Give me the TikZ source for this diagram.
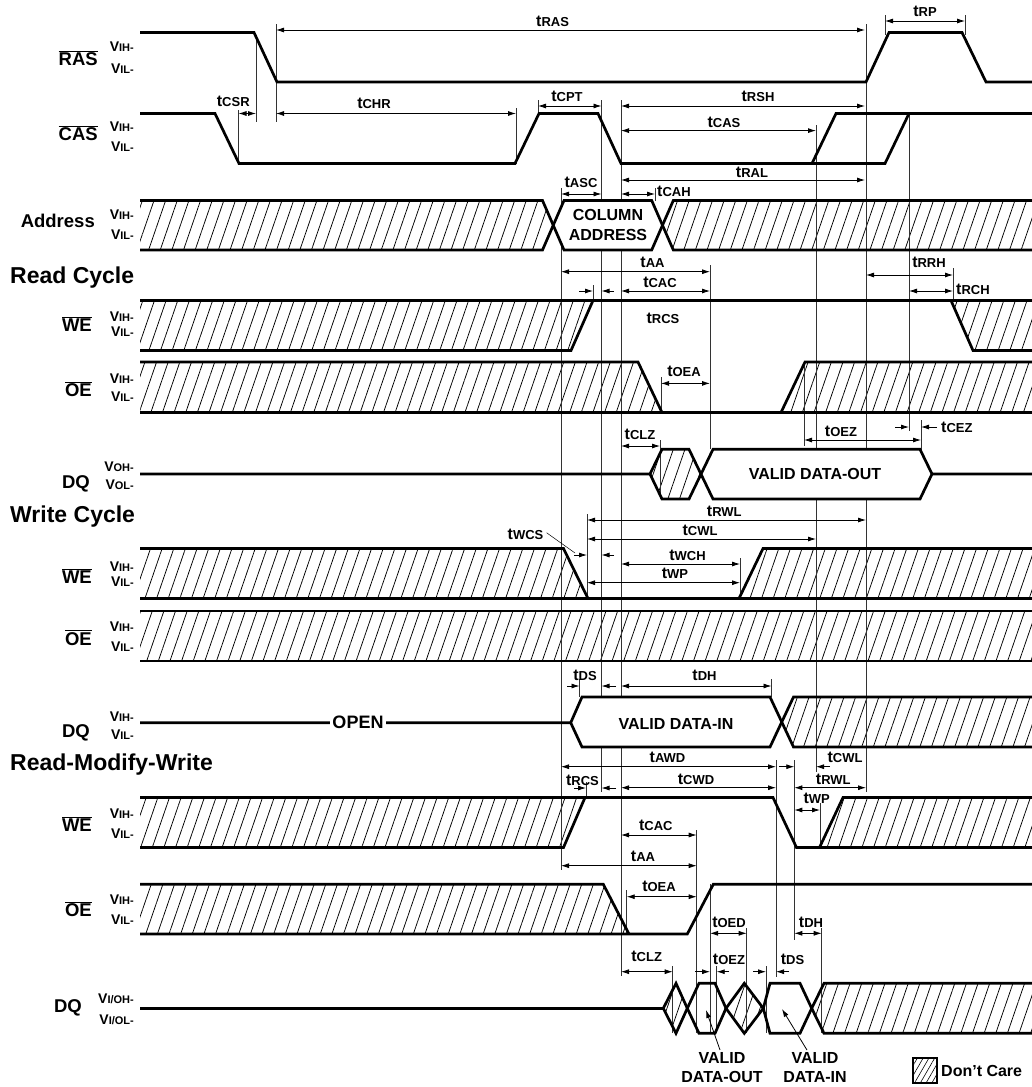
\documentclass[tikz,border=0pt]{standalone}
\usepackage{fontspec}
\setmainfont{Liberation Sans}
\usetikzlibrary{arrows.meta,patterns.meta}

\newcommand{\tn}[1]{{\fontsize{16}{16}\selectfont t}{\fontsize{13}{13}\selectfont #1}}
\newcommand{\vl}[1]{{\fontsize{14}{14}\selectfont V}{\fontsize{11}{11}\selectfont #1-}}
\newcommand{\ovl}[1]{$\overline{\mbox{#1}}$}

\tikzset{
  sig/.style={line width=2.7pt},
  guide/.style={line width=0.7pt, black!80},
  dim/.style={line width=0.8pt, {Latex[length=8pt,width=5pt]}-{Latex[length=8pt,width=5pt]}},
  half/.style={line width=0.8pt, -{Latex[length=8pt,width=5pt]}},
  hatch/.style={pattern={Lines[angle=71,distance=11pt,line width=0.75pt]}},
  tl/.style={font=\bfseries, inner sep=0pt},
  sn/.style={font=\bfseries\fontsize{18.5}{18.5}\selectfont, anchor=base east, inner sep=0pt},
  lvl/.style={font=\bfseries, anchor=east, inner sep=0pt},
  ttl/.style={font=\bfseries\fontsize{23}{23}\selectfont, anchor=base west, inner sep=0pt},
  txt/.style={font=\bfseries\fontsize{16}{19.5}\selectfont, inner sep=0pt, align=center},
}

\begin{document}
\begin{tikzpicture}[x=1pt,y=-1pt]
\useasboundingbox (0,0) rectangle (1032,1087);

% signal names and levels
\node[sn] (ras) at (98,65.7) {\ovl{RAS}};
\node[lvl] (rasH) at (134,46.7) {\vl{IH}};
\node[lvl] (rasL) at (134,68.3) {\vl{IL}};
\node[sn] (cas) at (98,140.7) {\ovl{CAS}};
\node[lvl] (casH) at (134,126.7) {\vl{IH}};
\node[lvl] (casL) at (134,146.7) {\vl{IL}};
\node[sn] (addr) at (95,227.5) {Address};
\node[lvl] (addrH) at (134,215) {\vl{IH}};
\node[lvl] (addrL) at (134,235) {\vl{IL}};

\node[ttl] (read) at (10,283.5) {Read Cycle};
\node[sn] (rwe) at (92,331.7) {\ovl{WE}};
\node[lvl] (rweH) at (134,316.7) {\vl{IH}};
\node[lvl] (rweL) at (134,331.7) {\vl{IL}};
\node[sn] (roe) at (92,396.7) {\ovl{OE}};
\node[lvl] (roeH) at (134,378.3) {\vl{IH}};
\node[lvl] (roeL) at (134,396.7) {\vl{IL}};
\node[sn] (rdq) at (90,488) {DQ};
\node[lvl] (rdqH) at (134,466.7) {\vl{OH}};
\node[lvl] (rdqL) at (134,485) {\vl{OL}};

\node[ttl] (write) at (10,522.7) {Write Cycle};
\node[sn] (wwe) at (92,583.3) {\ovl{WE}};
\node[lvl] (wweH) at (134,566.7) {\vl{IH}};
\node[lvl] (wweL) at (134,581.7) {\vl{IL}};
\node[sn] (woe) at (92,645) {\ovl{OE}};
\node[lvl] (woeH) at (134,626.7) {\vl{IH}};
\node[lvl] (woeL) at (134,646.7) {\vl{IL}};
\node[sn] (wdq) at (90,737) {DQ};
\node[lvl] (wdqH) at (134,716.7) {\vl{IH}};
\node[lvl] (wdqL) at (134,735) {\vl{IL}};

\node[ttl] (rmw) at (10,770.7) {Read-Modify-Write};
\node[sn] (mwe) at (92,831.7) {\ovl{WE}};
\node[lvl] (mweH) at (134,813.3) {\vl{IH}};
\node[lvl] (mweL) at (134,833.3) {\vl{IL}};
\node[sn] (moe) at (92,916.7) {\ovl{OE}};
\node[lvl] (moeH) at (134,900) {\vl{IH}};
\node[lvl] (moeL) at (134,920) {\vl{IL}};
\node[sn] (mdq) at (82,1012) {DQ};
\node[lvl] (mdqH) at (134,998.3) {\vl{I/OH}};
\node[lvl] (mdqL) at (134,1019.3) {\vl{I/OL}};

% don't care areas
\fill[hatch] (140,200.5) -- (542.5,200.5) -- (553.3,225.25) -- (542.5,250) -- (140,250) -- cycle;
\fill[hatch] (662.5,225.25) -- (673.3,200.5) -- (1032,200.5) -- (1032,250) -- (673.3,250) -- cycle;
\fill[hatch] (140,300.5) -- (593,300.5) -- (571,350.5) -- (140,350.5) -- cycle;
\fill[hatch] (951,300.5) -- (1032,300.5) -- (1032,350.5) -- (973,350.5) -- cycle;
\fill[hatch] (140,362) -- (638,362) -- (662,412.5) -- (140,412.5) -- cycle;
\fill[hatch] (781,412.5) -- (805,362) -- (1032,362) -- (1032,412.5) -- cycle;
\fill[hatch] (650,474) -- (662,449.3) -- (689,449.3) -- (701,474) -- (689,499) -- (662,499) -- cycle;
\fill[hatch] (140,548.5) -- (563.5,548.5) -- (588,598.5) -- (140,598.5) -- cycle;
\fill[hatch] (739,598.5) -- (763,548.5) -- (1032,548.5) -- (1032,598.5) -- cycle;
\fill[hatch] (140,611) rectangle (1032,661);
\fill[hatch] (782,722.7) -- (793.5,697) -- (1032,697) -- (1032,747) -- (793.5,747) -- cycle;
\fill[hatch] (140,797.5) -- (585,797.5) -- (563.5,847.5) -- (140,847.5) -- cycle;
\fill[hatch] (819.5,847.5) -- (843,797.5) -- (1032,797.5) -- (1032,847.5) -- cycle;
\fill[hatch] (140,884.3) -- (603.3,884.3) -- (629,934) -- (140,934) -- cycle;
\fill[hatch] (663.3,1008.3) -- (676,983.3) -- (687.3,1008.3) -- (676,1033.3) -- cycle;
\fill[hatch] (726,1008.3) -- (744.3,983.3) -- (763.3,1008.3) -- (744.3,1033.3) -- cycle;
\fill[hatch] (811.7,1008.3) -- (824,983.3) -- (1032,983.3) -- (1032,1033.3) -- (824,1033.3) -- cycle;

% timing reference lines
\foreach \x/\ya/\yb in {238.5/110/163.5, 256/36/122, 276/24/122, 516/108/163.5,
    538/100/116, 561/188/870, 601.5/100/792, 621/100/976, 655/188/201,
    710/265/449, 816/125/772, 866/24/792, 909/113/431, 885/15/35, 965/15/35,
    953/268/300, 593/285/300, 661/377/412, 804/362/446, 660/440/499,
    587/514/598, 740/558/598, 579.5/679/697, 771.5/679/697, 586/782/797,
    776/760/977, 794.3/760/940, 820/803/847, 626.7/890/934, 696.7/830/1033,
    710/884/1033, 716.7/966/1033, 746.7/928/1033, 766/966/1033,
    821.7/928/1033, 672.7/966/1033}
  \draw[guide] (\x,\ya) -- (\x,\yb);

% white boxes
\fill[white] (553.3,225.25) -- (564,200.5) -- (651.7,200.5) -- (662.5,225.25) -- (651.7,250) -- (564,250) -- cycle;
\fill[white] (701,474) -- (713,449.3) -- (920,449.3) -- (932,474) -- (920,499) -- (713,499) -- cycle;
\fill[white] (570.7,722.7) -- (582,697) -- (770,697) -- (782,722.7) -- (770,747) -- (582,747) -- cycle;
\draw[guide] (921,420) -- (921,452);

% RAS, CAS, Address
\draw[sig] (140,32.5) -- (254,32.5) -- (277,82) -- (866,82) -- (889,32.5) -- (962,32.5) -- (986,82) -- (1032,82);
\draw[sig] (140,113.5) -- (215,113.5) -- (239,163.5) -- (515,163.5) -- (539,113.5) -- (598,113.5) -- (621,163.5) -- (885,163.5) -- (909,113.5);
\draw[sig] (812,163.5) -- (836,113.5) -- (1032,113.5);
\draw[sig] (140,200.5) -- (542.5,200.5) -- (564,250) -- (651.7,250) -- (673.3,200.5) -- (1032,200.5);
\draw[sig] (140,250) -- (542.5,250) -- (564,200.5) -- (651.7,200.5) -- (673.3,250) -- (1032,250);
\node[txt] (coladdr) at (608,225) {COLUMN\\ADDRESS};

% read cycle
\draw[sig] (140,300.5) -- (1032,300.5);
\draw[sig] (140,350.5) -- (571,350.5) -- (593,300.5);
\draw[sig] (951,300.5) -- (973,350.5) -- (1032,350.5);
\draw[sig] (140,412.5) -- (1032,412.5);
\draw[sig] (140,362) -- (638,362) -- (662,412.5);
\draw[sig] (781,412.5) -- (805,362) -- (1032,362);
\draw[sig] (140,474) -- (650,474) -- (662,449.3) -- (689,449.3) -- (713,499) -- (920,499) -- (932,474) -- (1032,474);
\draw[sig] (650,474) -- (662,499) -- (689,499) -- (713,449.3) -- (920,449.3) -- (932,474);
\node[txt] (dout) at (815,474) {VALID DATA-OUT};

% write cycle
\draw[sig] (140,598.5) -- (1032,598.5);
\draw[sig] (140,548.5) -- (563.5,548.5) -- (588,598.5);
\draw[sig] (739,598.5) -- (763,548.5) -- (1032,548.5);
\draw[sig] (140,611) -- (1032,611);
\draw[sig] (140,661) -- (1032,661);
\draw[sig] (140,722.7) -- (570.7,722.7) -- (582,697) -- (770,697) -- (793.5,747) -- (1032,747);
\draw[sig] (570.7,722.7) -- (582,747) -- (770,747) -- (793.5,697) -- (1032,697);
\node[txt, fill=white, inner sep=2pt, font=\bfseries\fontsize{18}{18}\selectfont] (open) at (358,722.7) {OPEN};
\node[txt] (din) at (676,724) {VALID DATA-IN};

% read-modify-write
\draw[sig] (140,797.5) -- (773,797.5) -- (796.5,847.5) -- (1032,847.5);
\draw[sig] (140,847.5) -- (563.5,847.5) -- (585,797.5);
\draw[sig] (819.5,847.5) -- (843,797.5) -- (1032,797.5);
\draw[sig] (140,884.3) -- (603.3,884.3) -- (629,934);
\draw[sig] (140,934) -- (687.3,934) -- (713.3,884.3) -- (1032,884.3);
\draw[sig] (140,1008.3) -- (663.3,1008.3);
\draw[sig] (663.3,1008.3) -- (676,983.3) -- (687.3,1008.3) -- (676,1033.3) -- cycle;
\draw[sig] (687.3,1008.3) -- (699,983.3) -- (715,983.3) -- (726,1008.3) -- (715,1033.3) -- (699,1033.3) -- cycle;
\draw[sig] (726,1008.3) -- (744.3,983.3) -- (763.3,1008.3) -- (744.3,1033.3) -- cycle;
\draw[sig] (763.3,1008.3) -- (770,983.3) -- (800,983.3) -- (811.7,1008.3) -- (800,1033.3) -- (770,1033.3) -- cycle;
\draw[sig] (1032,983.3) -- (824,983.3) -- (811.7,1008.3) -- (824,1033.3) -- (1032,1033.3);

% timing arrows, top
\draw[dim] (276,30) -- (865,30);
\node[tl] (tras) at (552.6,21) {\tn{RAS}};
\draw[dim] (885,21) -- (965,21);
\node[tl] (trp) at (925,11) {\tn{RP}};
\draw[dim] (238.5,113.5) -- (256,113.5);
\node[tl] (tcsr) at (233.3,101) {\tn{CSR}};
\draw[dim] (276,113.5) -- (516,113.5);
\node[tl] (tchr) at (374,103.3) {\tn{CHR}};
\draw[dim] (538,106) -- (601.5,106);
\node[tl] (tcpt) at (567,96.7) {\tn{CPT}};
\draw[dim] (621,106) -- (865,106);
\node[tl] (trsh) at (758,96.7) {\tn{RSH}};
\draw[dim] (621,130.6) -- (816,130.6);
\node[tl] (tcas) at (724,122.7) {\tn{CAS}};
\draw[dim] (621,180) -- (865,180);
\node[tl] (tral) at (752,172) {\tn{RAL}};
\draw[dim] (561,194) -- (601.5,194);
\node[tl] (tasc) at (581,182.5) {\tn{ASC}};
\draw[dim] (621,194) -- (655,194);
\node[tl, anchor=west] (tcah) at (657,191) {\tn{CAH}};

% timing arrows, read cycle
\draw[dim] (561,271.7) -- (710,271.7);
\node[tl] (taa) at (652.5,262.8) {\tn{AA}};
\draw[dim] (621,291) -- (710,291);
\node[tl] (tcac) at (660,282.5) {\tn{CAC}};
\draw[half] (579,291) -- (593,291);
\draw[half] (614,291) -- (601.5,291);
\node[tl] (trcs) at (663,318.3) {\tn{RCS}};
\draw[dim] (866,275) -- (953,275);
\node[tl] (trrh) at (929,262.7) {\tn{RRH}};
\draw[dim] (909,291) -- (953,291);
\node[tl, anchor=west] (trch) at (956,289) {\tn{RCH}};
\draw[dim] (661,383.4) -- (710,383.4);
\node[tl] (toea) at (684,371.3) {\tn{OEA}};
\draw[dim] (804,440) -- (921,440);
\node[tl] (toez) at (841,431) {\tn{OEZ}};
\draw[half] (895,427) -- (909,427);
\draw[half] (937,427) -- (921,427);
\node[tl, anchor=west] (tcez) at (941,427) {\tn{CEZ}};
\draw[dim] (621,446) -- (660,446);
\node[tl] (tclz) at (640,434) {\tn{CLZ}};

% timing arrows, write cycle
\draw[dim] (587,520) -- (866,520);
\node[tl] (trwl) at (724.3,511) {\tn{RWL}};
\draw[dim] (587,539) -- (816,539);
\node[tl] (tcwl) at (700,530.3) {\tn{CWL}};
\draw[half] (574,555) -- (587,555);
\draw[half] (614,555) -- (601.5,555);
\node[tl] (twcs) at (525.5,534.7) {\tn{WCS}};
\draw[line width=0.5pt] (twcs.east) ++(3,-2) -- (575,553);
\draw[dim] (621,564) -- (740,564);
\node[tl] (twch) at (687.5,555) {\tn{WCH}};
\draw[dim] (587,582.7) -- (740,582.7);
\node[tl] (twp) at (675,573.3) {\tn{WP}};
\draw[half] (567,686) -- (579.5,686);
\draw[half] (616,686) -- (601.5,686);
\node[tl] (tds) at (585,675) {\tn{DS}};
\draw[dim] (621,686) -- (771.5,686);
\node[tl] (tdh) at (704.5,675) {\tn{DH}};

% timing arrows, read-modify-write
\draw[dim] (561,766.7) -- (776,766.7);
\node[tl] (tawd) at (667.5,757.5) {\tn{AWD}};
\draw[half] (779,766.7) -- (794.3,766.7);
\draw[half] (830,766.7) -- (816,766.7);
\node[tl] (tcwl2) at (845,757.5) {\tn{CWL}};
\draw[dim] (621,787.7) -- (776,787.7);
\node[tl] (tcwd) at (696,779.5) {\tn{CWD}};
\draw[half] (574,788) -- (586,788);
\draw[half] (616,788) -- (601.5,788);
\node[tl] (trcs2) at (582.5,780) {\tn{RCS}};
\draw[dim] (794.3,787.7) -- (866,787.7);
\node[tl] (trwl2) at (833.3,779) {\tn{RWL}};
\draw[dim] (794.3,810) -- (820,810);
\node[tl] (twp2) at (816.7,798) {\tn{WP}};
\draw[dim] (621,835) -- (696.7,835);
\node[tl] (tcac2) at (655.8,825) {\tn{CAC}};
\draw[dim] (561,865.7) -- (696.7,865.7);
\node[tl] (taa2) at (643,856) {\tn{AA}};
\draw[dim] (626.7,896.7) -- (696.7,896.7);
\node[tl] (toea2) at (659,886.7) {\tn{OEA}};
\draw[dim] (710,933.3) -- (746.7,933.3);
\node[tl] (toed) at (729,922.5) {\tn{OED}};
\draw[dim] (794.3,933.3) -- (821.7,933.3);
\node[tl] (tdh2) at (811,922.5) {\tn{DH}};
\draw[dim] (621,971.7) -- (672.7,971.7);
\node[tl] (tclz2) at (646.7,956) {\tn{CLZ}};
\draw[half] (695,971.7) -- (710,971.7);
\draw[half] (729,971.7) -- (716.7,971.7);
\node[tl] (toez2) at (729,959) {\tn{OEZ}};
\draw[half] (753,971.7) -- (766,971.7);
\draw[half] (789,971.7) -- (776,971.7);
\node[tl] (tds2) at (792.5,959) {\tn{DS}};

% data labels and legend
\node[txt] (vout) at (722,1067.5) {VALID\\DATA-OUT};
\node[txt] (vin) at (815,1067.5) {VALID\\DATA-IN};
\draw[half] (vout.north) ++(-2,-2) -- (706,1010);
\draw[half] (vin.north) ++(-8,-2) -- (782,1009);
\filldraw[pattern={Lines[angle=60,distance=5pt,line width=0.6pt]}, line width=2pt] (913,1058) rectangle (937,1083);
\node[txt, anchor=west] (dc) at (941,1070.5) {Don't Care};
\end{tikzpicture}
\end{document}
